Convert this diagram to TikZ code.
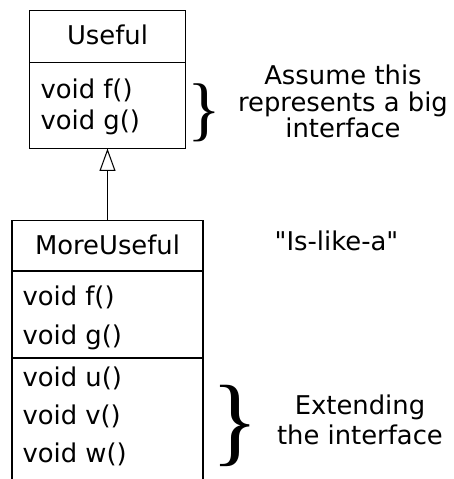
\documentclass[tikz,border=0pt]{standalone}
\usepackage{fontspec}
\setmainfont{DejaVu Sans}[Ligatures=TeXOff]
\newfontfamily\bracefont{Liberation Serif}
\newcommand*{\umlfont}{\fontsize{14.7}{17}\selectfont}
\usetikzlibrary{arrows.meta}
\tikzstyle{base}=[inner sep=0pt, outer sep=0pt, line width=0.6pt]
\tikzstyle{member}=[anchor=base west, black]
\tikzstyle{title}=[anchor=base, black]
\tikzstyle{extends}=[-{Triangle[open, length=0.45cm, width=0.32cm]}]

\begin{document}
\begin{tikzpicture}[base]
    \umlfont
        \path [use as bounding box] (0,0) rectangle (9.06,9.58);
        % base class
        \draw [black] (0.59,6.61) rectangle (3.71,9.37);
        \draw [black] (0.59,8.33) -- (3.71,8.33);
        \node [title] (useful) at (2.15,8.68) {Useful};
        \node [member] (usefulf) at (0.81,7.61) {void f()};
        \node [member] (usefulg) at (0.81,6.99) {void g()};
        \node [black] (bigbrace) at (4.08,7.32) {\bracefont\fontsize{40}{40}\selectfont\}};
        \node [title] (assume) at (6.86,7.88) {Assume this};
        \node [title] (represents) at (6.86,7.34) {represents a big};
        \node [title] (iface) at (6.86,6.82) {interface};
        % derived class
        \draw [black] (0.24,0) -- (0.24,5.17) -- (4.06,5.17) -- (4.06,0);
        \draw [black] (0.24,4.16) -- (4.06,4.16);
        \draw [black] (0.24,2.42) -- (4.06,2.42);
        \node [title] (moreuseful) at (2.15,4.48) {MoreUseful};
        \node [member] (moref) at (0.45,3.47) {void f()};
        \node [member] (moreg) at (0.45,2.68) {void g()};
        \node [member] (moreu) at (0.45,1.84) {void u()};
        \node [member] (morev) at (0.45,1.08) {void v()};
        \node [member] (morew) at (0.45,0.32) {void w()};
        \node [title] (islike) at (6.73,4.57) {"Is-like-a"};
        \node [black] (extbrace) at (4.70,1.07) {\bracefont\fontsize{56}{56}\selectfont\}};
        \node [title] (extending) at (7.20,1.28) {Extending};
        \node [title] (theiface) at (7.20,0.68) {the interface};
        % inheritance
        \coordinate (usefulbottom) at (2.15,6.61);
        \coordinate (moretop) at (2.15,5.17);
        \draw [black, extends] (moretop) -- (usefulbottom);
    \end{tikzpicture}
\end{document}
